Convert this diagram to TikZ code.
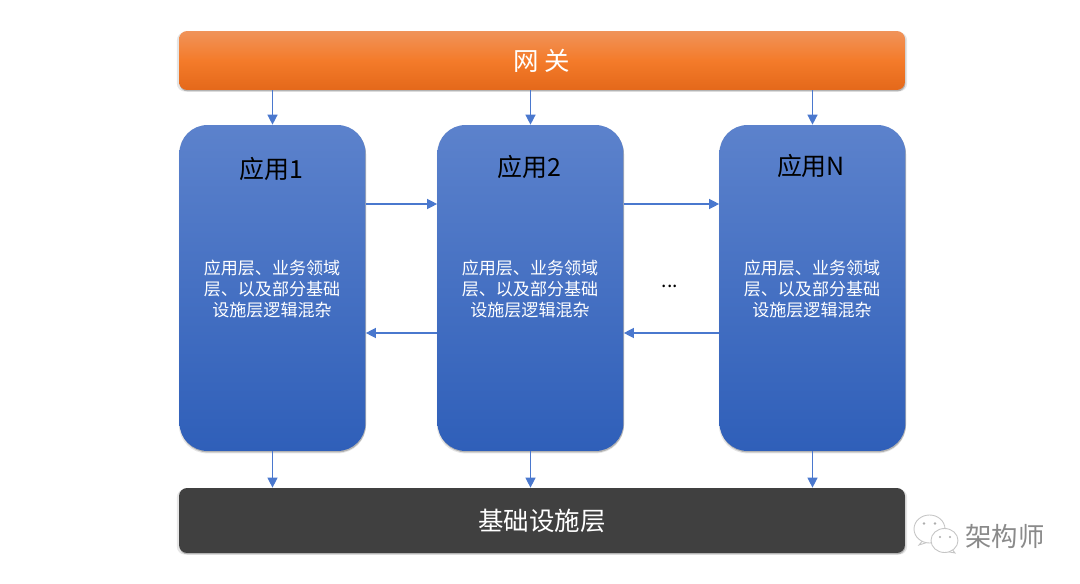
\documentclass[tikz,border=0pt]{standalone}
\usepackage{fontspec}
\setmainfont{Noto Sans CJK SC}
\usetikzlibrary{arrows.meta,shadows}
\definecolor{flow}{HTML}{4A78CE}
\definecolor{orangetop}{HTML}{F0935A}
\definecolor{orangemid}{HTML}{F47B2A}
\definecolor{orangelow}{HTML}{E4681A}
\definecolor{bluetop}{HTML}{5C82CC}
\definecolor{bluelow}{HTML}{2F5FB9}
\definecolor{darkbar}{HTML}{404040}
\definecolor{logoink}{HTML}{8A8A8A}
\tikzset{
  softshadow/.style={
    general shadow={shadow xshift=0pt,shadow yshift=-0.8pt,shadow scale=1.006,opacity=0.10,fill=black},
    general shadow={shadow xshift=0.3pt,shadow yshift=-0.8pt,opacity=0.22,fill=black}},
  bar/.style={rounded corners=0.16cm,minimum width=14.52cm,text=white,font=\fontsize{14.5}{17}\selectfont,softshadow},
  appbox/.style={rounded corners=0.56cm,minimum width=3.72cm,minimum height=6.52cm,
    top color=bluetop,bottom color=bluelow,softshadow},
  flowline/.style={flow,line width=0.75pt,-{Triangle[length=2mm,width=2mm]}},
  apptitle/.style={font=\fontsize{14.2}{17}\selectfont,text=black},
  appbody/.style={font=\fontsize{9.7}{11.7}\selectfont,text=white,align=center},
  bubble/.style={draw=logoink!50,fill=white,line width=0.5pt},
}

\begin{document}
\begin{tikzpicture}[x=0.02cm,y=-0.02cm]
\useasboundingbox (0,0) rectangle (1080,584);

% ---------------------------------------------------------------- bars
\node[bar,minimum height=1.18cm,top color=orangetop,bottom color=orangelow,middle color=orangemid] (gateway) at (542,60.5) {网 关};
\node[bar,minimum height=1.30cm,fill=darkbar] (infra) at (542,520.5) {基础设施层};

% ---------------------------------------------------------------- applications
\node[appbox] (app1) at (272.5,288) {};
\node[appbox] (app2) at (530.5,288) {};
\node[appbox] (appN) at (812.5,288) {};

\node[apptitle] (title1) at (271,169) {应用1};
\node[apptitle] (title2) at (529,167) {应用2};
\node[apptitle] (titleN) at (811,166) {应用N};

\node[appbody] (body1) at (272,289) {应用层、业务领域\\层、以及部分基础\\设施层逻辑混杂};
\node[appbody] (body2) at (530,289) {应用层、业务领域\\层、以及部分基础\\设施层逻辑混杂};
\node[appbody] (bodyN) at (812,289) {应用层、业务领域\\层、以及部分基础\\设施层逻辑混杂};

\node[font=\fontsize{11}{13}\selectfont] (dots) at (670,286) {...};

% ---------------------------------------------------------------- flows
\coordinate (callrow) at (0,204);
\coordinate (backrow) at (0,333);

\foreach \app in {app1,app2,appN} {
  \draw[flowline] (gateway.south -| \app.north) -- (\app.north);
  \draw[flowline] (\app.south) -- (infra.north -| \app.south);
}
\draw[flowline] (app1.east |- callrow) -- (app2.west |- callrow);
\draw[flowline] (app2.east |- callrow) -- (appN.west |- callrow);
\draw[flowline] (app2.west |- backrow) -- (app1.east |- backrow);
\draw[flowline] (appN.west |- backrow) -- (app2.east |- backrow);

% ---------------------------------------------------------------- logo
\draw[bubble] (924,539) -- (919,545) -- (930,541.5) -- cycle;
\draw[bubble] (929.5,529) ellipse (15.5 and 14);
\fill[logoink!70] (924,523.5) circle (1.3) (935,523.5) circle (1.3);
\draw[bubble] (951,548) -- (955,553) -- (944,551) -- cycle;
\draw[bubble] (944.5,540.5) ellipse (13.5 and 12);
\fill[logoink!70] (940,537) circle (1.1) (950,537) circle (1.1);
\node[text=logoink,font=\fontsize{15}{18}\selectfont] (brand) at (1005,536) {架构师};

\end{tikzpicture}
\end{document}
